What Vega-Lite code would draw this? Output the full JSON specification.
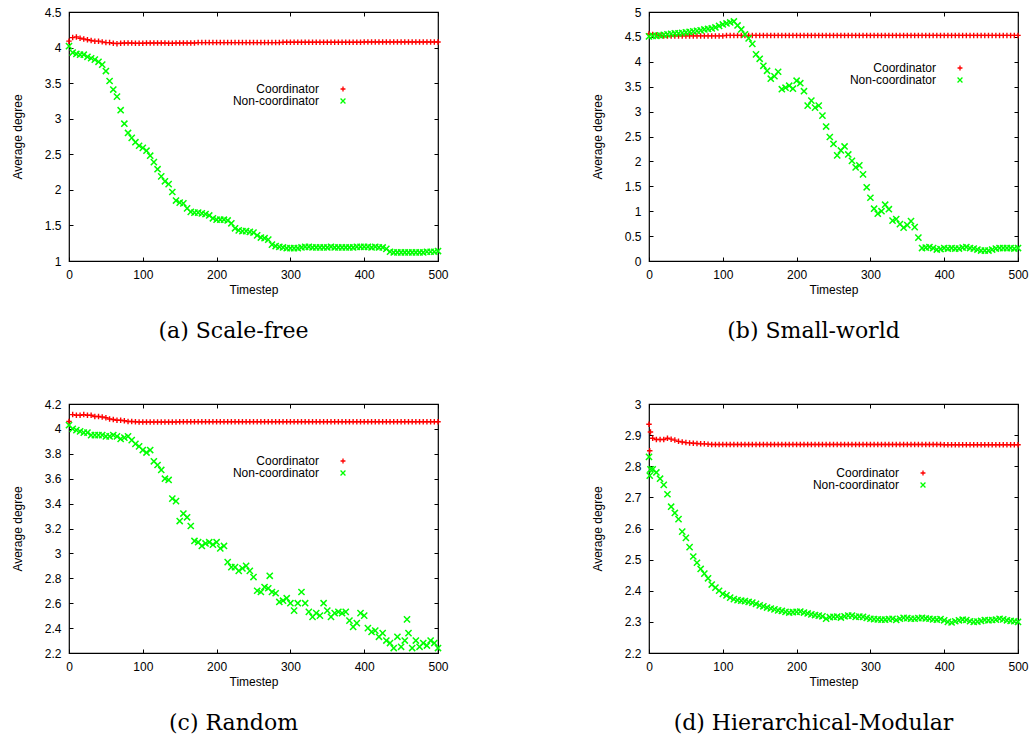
{
"$schema": "https://vega.github.io/schema/vega-lite/v6.json",
"padding": {"left": 10, "top": 5, "right": 5, "bottom": 2},
"background": "#ffffff",
"columns": 2,
"spacing": {"row": 143, "column": 211},
"bounds": "flush",
"resolve": {"scale": {"color": "independent", "shape": "independent"}},
"config": {
  "view": {"stroke": "#000000", "strokeWidth": 1.2},
  "axis": {"labelFont": "Liberation Sans", "labelFontSize": 12, "labelColor": "#000000", "titleFont": "Liberation Sans", "titleFontSize": 12, "titleFontWeight": "normal", "titleColor": "#000000", "tickColor": "#000000", "tickSize": -4, "labelPadding": 12, "domain": false, "grid": false, "labelFlush": false, "labelOverlap": false},
  "axisX": {"titlePadding": 4},
  "axisY": {"titlePadding": 20},
  "legend": {"title": null, "padding": 0, "labelFont": "Liberation Sans", "labelFontSize": 12, "labelColor": "#000000", "labelAlign": "right", "labelOffset": -30, "symbolOffset": 0, "rowPadding": 0, "symbolSize": 24, "symbolStrokeWidth": 1.3},
  "title": {"font": "DejaVu Serif", "fontSize": 22, "fontWeight": "normal", "color": "#000000", "orient": "bottom", "anchor": "middle", "frame": "group", "dx": -20, "offset": 26}
},
"datasets": {
"a": [
{"t":0,"c":4.09,"n":4.02},{"t":5,"c":4.14,"n":3.93},{"t":10,"c":4.15,"n":3.91},{"t":15,"c":4.13,"n":3.90},{"t":20,"c":4.12,"n":3.90},
{"t":25,"c":4.11,"n":3.87},{"t":30,"c":4.10,"n":3.85},{"t":35,"c":4.09,"n":3.83},{"t":40,"c":4.09,"n":3.80},{"t":45,"c":4.08,"n":3.76},
{"t":50,"c":4.07,"n":3.67},{"t":55,"c":4.07,"n":3.53},{"t":60,"c":4.06,"n":3.41},{"t":65,"c":4.055,"n":3.31},{"t":70,"c":4.06,"n":3.12},
{"t":75,"c":4.065,"n":2.93},{"t":80,"c":4.065,"n":2.80},{"t":85,"c":4.065,"n":2.73},{"t":90,"c":4.06,"n":2.67},{"t":95,"c":4.06,"n":2.62},
{"t":100,"c":4.06,"n":2.59},{"t":105,"c":4.065,"n":2.55},{"t":110,"c":4.065,"n":2.48},{"t":115,"c":4.065,"n":2.39},{"t":120,"c":4.065,"n":2.29},
{"t":125,"c":4.065,"n":2.19},{"t":130,"c":4.065,"n":2.12},{"t":135,"c":4.06,"n":2.08},{"t":140,"c":4.06,"n":1.97},{"t":145,"c":4.065,"n":1.85},
{"t":150,"c":4.065,"n":1.82},{"t":155,"c":4.065,"n":1.81},{"t":160,"c":4.065,"n":1.74},{"t":165,"c":4.065,"n":1.69},{"t":170,"c":4.065,"n":1.68},
{"t":175,"c":4.07,"n":1.68},{"t":180,"c":4.07,"n":1.67},{"t":185,"c":4.07,"n":1.66},{"t":190,"c":4.07,"n":1.64},{"t":195,"c":4.07,"n":1.60},
{"t":200,"c":4.07,"n":1.58},{"t":205,"c":4.07,"n":1.58},{"t":210,"c":4.07,"n":1.58},{"t":215,"c":4.07,"n":1.57},{"t":220,"c":4.07,"n":1.53},
{"t":225,"c":4.07,"n":1.46},{"t":230,"c":4.07,"n":1.43},{"t":235,"c":4.07,"n":1.42},{"t":240,"c":4.07,"n":1.42},{"t":245,"c":4.07,"n":1.41},
{"t":250,"c":4.07,"n":1.40},{"t":255,"c":4.07,"n":1.36},{"t":260,"c":4.07,"n":1.33},{"t":265,"c":4.07,"n":1.32},{"t":270,"c":4.07,"n":1.30},
{"t":275,"c":4.07,"n":1.23},{"t":280,"c":4.07,"n":1.21},{"t":285,"c":4.07,"n":1.20},{"t":290,"c":4.075,"n":1.19},{"t":295,"c":4.075,"n":1.18},
{"t":300,"c":4.075,"n":1.18},{"t":305,"c":4.075,"n":1.18},{"t":310,"c":4.075,"n":1.18},{"t":315,"c":4.075,"n":1.19},{"t":320,"c":4.075,"n":1.20},
{"t":325,"c":4.075,"n":1.20},{"t":330,"c":4.075,"n":1.19},{"t":335,"c":4.075,"n":1.19},{"t":340,"c":4.075,"n":1.19},{"t":345,"c":4.075,"n":1.19},
{"t":350,"c":4.075,"n":1.19},{"t":355,"c":4.075,"n":1.20},{"t":360,"c":4.075,"n":1.19},{"t":365,"c":4.075,"n":1.19},{"t":370,"c":4.075,"n":1.19},
{"t":375,"c":4.075,"n":1.19},{"t":380,"c":4.075,"n":1.19},{"t":385,"c":4.075,"n":1.19},{"t":390,"c":4.075,"n":1.20},{"t":395,"c":4.075,"n":1.20},
{"t":400,"c":4.078,"n":1.20},{"t":405,"c":4.078,"n":1.20},{"t":410,"c":4.078,"n":1.19},{"t":415,"c":4.078,"n":1.20},{"t":420,"c":4.078,"n":1.19},
{"t":425,"c":4.078,"n":1.19},{"t":430,"c":4.078,"n":1.17},{"t":435,"c":4.078,"n":1.13},{"t":440,"c":4.078,"n":1.12},{"t":445,"c":4.078,"n":1.12},
{"t":450,"c":4.078,"n":1.12},{"t":455,"c":4.078,"n":1.12},{"t":460,"c":4.078,"n":1.12},{"t":465,"c":4.078,"n":1.12},{"t":470,"c":4.078,"n":1.12},
{"t":475,"c":4.078,"n":1.12},{"t":480,"c":4.078,"n":1.12},{"t":485,"c":4.078,"n":1.13},{"t":490,"c":4.078,"n":1.13},{"t":495,"c":4.078,"n":1.13},
{"t":500,"c":4.078,"n":1.14}
],
"b": [
{"t":0,"c":4.56,"n":4.51},{"t":5,"c":4.55,"n":4.52},{"t":10,"c":4.54,"n":4.52},{"t":15,"c":4.53,"n":4.53},{"t":20,"c":4.52,"n":4.54},
{"t":25,"c":4.52,"n":4.55},{"t":30,"c":4.52,"n":4.56},{"t":35,"c":4.52,"n":4.57},{"t":40,"c":4.52,"n":4.57},{"t":45,"c":4.52,"n":4.58},
{"t":50,"c":4.52,"n":4.59},{"t":55,"c":4.52,"n":4.60},{"t":60,"c":4.52,"n":4.61},{"t":65,"c":4.52,"n":4.62},{"t":70,"c":4.52,"n":4.63},
{"t":75,"c":4.52,"n":4.65},{"t":80,"c":4.52,"n":4.66},{"t":85,"c":4.52,"n":4.67},{"t":90,"c":4.52,"n":4.69},{"t":95,"c":4.52,"n":4.72},
{"t":100,"c":4.52,"n":4.75},{"t":105,"c":4.53,"n":4.77},{"t":110,"c":4.53,"n":4.79},{"t":115,"c":4.53,"n":4.81},{"t":120,"c":4.53,"n":4.73},
{"t":125,"c":4.53,"n":4.65},{"t":130,"c":4.53,"n":4.55},{"t":135,"c":4.53,"n":4.47},{"t":140,"c":4.53,"n":4.36},{"t":145,"c":4.53,"n":4.15},
{"t":150,"c":4.53,"n":4.06},{"t":155,"c":4.53,"n":3.92},{"t":160,"c":4.53,"n":3.82},{"t":165,"c":4.53,"n":3.66},{"t":170,"c":4.53,"n":3.71},
{"t":175,"c":4.53,"n":3.80},{"t":180,"c":4.53,"n":3.45},{"t":185,"c":4.53,"n":3.48},{"t":190,"c":4.53,"n":3.52},{"t":195,"c":4.53,"n":3.46},
{"t":200,"c":4.53,"n":3.62},{"t":205,"c":4.53,"n":3.57},{"t":210,"c":4.53,"n":3.41},{"t":215,"c":4.53,"n":3.12},{"t":220,"c":4.53,"n":3.22},
{"t":225,"c":4.53,"n":3.08},{"t":230,"c":4.53,"n":3.12},{"t":235,"c":4.53,"n":2.92},{"t":240,"c":4.53,"n":2.70},{"t":245,"c":4.53,"n":2.49},
{"t":250,"c":4.53,"n":2.35},{"t":255,"c":4.53,"n":2.12},{"t":260,"c":4.53,"n":2.22},{"t":265,"c":4.53,"n":2.30},{"t":270,"c":4.53,"n":2.14},
{"t":275,"c":4.53,"n":2.01},{"t":280,"c":4.53,"n":1.88},{"t":285,"c":4.53,"n":1.92},{"t":290,"c":4.53,"n":1.74},{"t":295,"c":4.53,"n":1.48},
{"t":300,"c":4.53,"n":1.27},{"t":305,"c":4.53,"n":1.05},{"t":310,"c":4.53,"n":0.95},{"t":315,"c":4.53,"n":1.00},{"t":320,"c":4.53,"n":1.13},
{"t":325,"c":4.53,"n":1.04},{"t":330,"c":4.53,"n":0.81},{"t":335,"c":4.53,"n":0.84},{"t":340,"c":4.53,"n":0.74},{"t":345,"c":4.53,"n":0.67},
{"t":350,"c":4.53,"n":0.72},{"t":355,"c":4.53,"n":0.80},{"t":360,"c":4.53,"n":0.68},{"t":365,"c":4.53,"n":0.47},{"t":370,"c":4.53,"n":0.26},
{"t":375,"c":4.53,"n":0.27},{"t":380,"c":4.53,"n":0.28},{"t":385,"c":4.53,"n":0.26},{"t":390,"c":4.53,"n":0.23},{"t":395,"c":4.53,"n":0.24},
{"t":400,"c":4.53,"n":0.26},{"t":405,"c":4.53,"n":0.25},{"t":410,"c":4.53,"n":0.26},{"t":415,"c":4.53,"n":0.25},{"t":420,"c":4.53,"n":0.25},
{"t":425,"c":4.53,"n":0.27},{"t":430,"c":4.53,"n":0.28},{"t":435,"c":4.53,"n":0.26},{"t":440,"c":4.53,"n":0.25},{"t":445,"c":4.53,"n":0.23},
{"t":450,"c":4.53,"n":0.21},{"t":455,"c":4.53,"n":0.21},{"t":460,"c":4.53,"n":0.21},{"t":465,"c":4.53,"n":0.23},{"t":470,"c":4.53,"n":0.25},
{"t":475,"c":4.53,"n":0.26},{"t":480,"c":4.53,"n":0.26},{"t":485,"c":4.53,"n":0.26},{"t":490,"c":4.53,"n":0.26},{"t":495,"c":4.53,"n":0.25},
{"t":500,"c":4.53,"n":0.26}
],
"c": [
{"t":0,"c":4.06,"n":4.03},{"t":5,"c":4.115,"n":4.00},{"t":10,"c":4.11,"n":3.99},{"t":15,"c":4.11,"n":3.98},{"t":20,"c":4.115,"n":3.97},
{"t":25,"c":4.11,"n":3.97},{"t":30,"c":4.11,"n":3.95},{"t":35,"c":4.10,"n":3.95},{"t":40,"c":4.10,"n":3.95},{"t":45,"c":4.095,"n":3.95},
{"t":50,"c":4.09,"n":3.94},{"t":55,"c":4.08,"n":3.94},{"t":60,"c":4.075,"n":3.95},{"t":65,"c":4.07,"n":3.94},{"t":70,"c":4.07,"n":3.92},
{"t":75,"c":4.065,"n":3.93},{"t":80,"c":4.06,"n":3.94},{"t":85,"c":4.06,"n":3.91},{"t":90,"c":4.058,"n":3.88},{"t":95,"c":4.056,"n":3.86},
{"t":100,"c":4.056,"n":3.83},{"t":105,"c":4.056,"n":3.81},{"t":110,"c":4.056,"n":3.83},{"t":115,"c":4.056,"n":3.74},{"t":120,"c":4.056,"n":3.71},
{"t":125,"c":4.056,"n":3.67},{"t":130,"c":4.056,"n":3.60},{"t":135,"c":4.056,"n":3.59},{"t":140,"c":4.056,"n":3.44},{"t":145,"c":4.056,"n":3.42},
{"t":150,"c":4.058,"n":3.26},{"t":155,"c":4.058,"n":3.32},{"t":160,"c":4.058,"n":3.29},{"t":165,"c":4.058,"n":3.22},{"t":170,"c":4.058,"n":3.10},
{"t":175,"c":4.058,"n":3.09},{"t":180,"c":4.058,"n":3.06},{"t":185,"c":4.058,"n":3.08},{"t":190,"c":4.058,"n":3.09},{"t":195,"c":4.058,"n":3.07},
{"t":200,"c":4.058,"n":3.09},{"t":205,"c":4.058,"n":3.04},{"t":210,"c":4.058,"n":3.06},{"t":215,"c":4.058,"n":2.93},{"t":220,"c":4.058,"n":2.89},
{"t":225,"c":4.058,"n":2.89},{"t":230,"c":4.058,"n":2.86},{"t":235,"c":4.058,"n":2.88},{"t":240,"c":4.058,"n":2.90},{"t":245,"c":4.058,"n":2.86},
{"t":250,"c":4.058,"n":2.81},{"t":255,"c":4.058,"n":2.70},{"t":260,"c":4.058,"n":2.69},{"t":265,"c":4.058,"n":2.73},{"t":270,"c":4.058,"n":2.72},
{"t":272,"n":2.82},
{"t":275,"c":4.058,"n":2.69},{"t":280,"c":4.058,"n":2.68},{"t":285,"c":4.058,"n":2.61},{"t":290,"c":4.058,"n":2.62},{"t":295,"c":4.058,"n":2.64},
{"t":300,"c":4.058,"n":2.60},{"t":305,"c":4.058,"n":2.54},{"t":310,"c":4.058,"n":2.60},{"t":315,"c":4.058,"n":2.69},{"t":320,"c":4.058,"n":2.60},
{"t":325,"c":4.058,"n":2.53},{"t":330,"c":4.058,"n":2.49},{"t":335,"c":4.058,"n":2.52},{"t":340,"c":4.058,"n":2.50},{"t":345,"c":4.058,"n":2.60},
{"t":350,"c":4.058,"n":2.54},{"t":355,"c":4.058,"n":2.49},{"t":360,"c":4.058,"n":2.52},{"t":365,"c":4.058,"n":2.53},{"t":370,"c":4.058,"n":2.52},
{"t":375,"c":4.058,"n":2.53},{"t":380,"c":4.058,"n":2.46},{"t":385,"c":4.058,"n":2.41},{"t":390,"c":4.058,"n":2.44},{"t":395,"c":4.058,"n":2.52},
{"t":400,"c":4.058,"n":2.50},{"t":405,"c":4.058,"n":2.40},{"t":410,"c":4.058,"n":2.37},{"t":415,"c":4.058,"n":2.38},{"t":420,"c":4.058,"n":2.33},
{"t":425,"c":4.058,"n":2.36},{"t":430,"c":4.058,"n":2.30},{"t":435,"c":4.058,"n":2.28},{"t":440,"c":4.058,"n":2.24},{"t":445,"c":4.058,"n":2.33},
{"t":450,"c":4.058,"n":2.25},{"t":455,"c":4.058,"n":2.30},{"t":458,"n":2.47},{"t":460,"c":4.058,"n":2.36},{"t":465,"c":4.058,"n":2.24},{"t":470,"c":4.058,"n":2.30},
{"t":475,"c":4.058,"n":2.25},{"t":480,"c":4.058,"n":2.28},{"t":485,"c":4.058,"n":2.26},{"t":490,"c":4.058,"n":2.30},{"t":495,"c":4.058,"n":2.28},
{"t":500,"c":4.058,"n":2.24}
],
"d": [
{"t":0,"c":2.935,"n":2.83},{"t":1,"c":2.85,"n":2.77},{"t":2,"c":2.91,"n":2.79},
{"t":5,"c":2.89,"n":2.79},{"t":10,"c":2.886,"n":2.78},{"t":15,"c":2.886,"n":2.76},{"t":20,"c":2.886,"n":2.74},
{"t":25,"c":2.89,"n":2.71},{"t":30,"c":2.887,"n":2.67},{"t":35,"c":2.884,"n":2.65},{"t":40,"c":2.88,"n":2.63},{"t":45,"c":2.878,"n":2.59},
{"t":50,"c":2.876,"n":2.57},{"t":55,"c":2.875,"n":2.54},{"t":60,"c":2.874,"n":2.51},{"t":65,"c":2.873,"n":2.49},{"t":70,"c":2.872,"n":2.47},
{"t":75,"c":2.872,"n":2.455},{"t":80,"c":2.871,"n":2.44},{"t":85,"c":2.87,"n":2.42},{"t":90,"c":2.87,"n":2.41},{"t":95,"c":2.87,"n":2.40},
{"t":100,"c":2.87,"n":2.39},{"t":105,"c":2.87,"n":2.385},{"t":110,"c":2.87,"n":2.378},{"t":115,"c":2.87,"n":2.373},{"t":120,"c":2.87,"n":2.37},
{"t":125,"c":2.87,"n":2.368},{"t":130,"c":2.87,"n":2.367},{"t":135,"c":2.87,"n":2.364},{"t":140,"c":2.87,"n":2.362},{"t":145,"c":2.87,"n":2.358},
{"t":150,"c":2.87,"n":2.353},{"t":155,"c":2.87,"n":2.35},{"t":160,"c":2.87,"n":2.346},{"t":165,"c":2.87,"n":2.343},{"t":170,"c":2.87,"n":2.34},
{"t":175,"c":2.87,"n":2.337},{"t":180,"c":2.87,"n":2.335},{"t":185,"c":2.87,"n":2.332},{"t":190,"c":2.87,"n":2.33},{"t":195,"c":2.87,"n":2.331},
{"t":200,"c":2.87,"n":2.332},{"t":205,"c":2.87,"n":2.333},{"t":210,"c":2.87,"n":2.33},{"t":215,"c":2.87,"n":2.327},{"t":220,"c":2.87,"n":2.324},
{"t":225,"c":2.87,"n":2.322},{"t":230,"c":2.87,"n":2.32},{"t":235,"c":2.87,"n":2.318},{"t":240,"c":2.87,"n":2.31},{"t":245,"c":2.87,"n":2.315},
{"t":250,"c":2.87,"n":2.316},{"t":255,"c":2.87,"n":2.317},{"t":260,"c":2.87,"n":2.314},{"t":265,"c":2.87,"n":2.318},{"t":270,"c":2.87,"n":2.32},
{"t":275,"c":2.87,"n":2.32},{"t":280,"c":2.87,"n":2.316},{"t":285,"c":2.87,"n":2.317},{"t":290,"c":2.87,"n":2.316},{"t":295,"c":2.87,"n":2.313},
{"t":300,"c":2.87,"n":2.31},{"t":305,"c":2.87,"n":2.309},{"t":310,"c":2.87,"n":2.308},{"t":315,"c":2.87,"n":2.307},{"t":320,"c":2.87,"n":2.307},
{"t":325,"c":2.87,"n":2.309},{"t":330,"c":2.87,"n":2.31},{"t":335,"c":2.87,"n":2.306},{"t":340,"c":2.87,"n":2.31},{"t":345,"c":2.87,"n":2.313},
{"t":350,"c":2.87,"n":2.312},{"t":355,"c":2.87,"n":2.31},{"t":360,"c":2.87,"n":2.31},{"t":365,"c":2.87,"n":2.312},{"t":370,"c":2.87,"n":2.313},
{"t":375,"c":2.87,"n":2.311},{"t":380,"c":2.87,"n":2.31},{"t":385,"c":2.87,"n":2.308},{"t":390,"c":2.87,"n":2.307},{"t":395,"c":2.87,"n":2.309},
{"t":400,"c":2.869,"n":2.305},{"t":405,"c":2.869,"n":2.30},{"t":410,"c":2.869,"n":2.298},{"t":415,"c":2.869,"n":2.302},{"t":420,"c":2.869,"n":2.305},
{"t":425,"c":2.869,"n":2.307},{"t":430,"c":2.869,"n":2.306},{"t":435,"c":2.869,"n":2.302},{"t":440,"c":2.869,"n":2.30},{"t":445,"c":2.869,"n":2.301},
{"t":450,"c":2.869,"n":2.303},{"t":455,"c":2.869,"n":2.306},{"t":460,"c":2.869,"n":2.305},{"t":465,"c":2.869,"n":2.306},{"t":470,"c":2.869,"n":2.307},
{"t":475,"c":2.869,"n":2.31},{"t":480,"c":2.869,"n":2.308},{"t":485,"c":2.869,"n":2.305},{"t":490,"c":2.869,"n":2.303},{"t":495,"c":2.869,"n":2.302},
{"t":500,"c":2.869,"n":2.30}
]
},
"concat": [
{
  "width": 369, "height": 249,
  "data": {"name": "a"},
  "title": {"text": "(a) Scale-free"},
  "layer": [
    {"mark": {"type": "point", "filled": false, "strokeWidth": 1.4, "size": 30, "opacity": 1},
     "encoding": {
       "x": {"field": "t", "type": "quantitative", "scale": {"domain": [0, 500], "nice": false}, "axis": {"orient": "bottom", "title": "Timestep", "values": [0, 100, 200, 300, 400, 500]}},
       "y": {"field": "c", "type": "quantitative", "scale": {"domain": [1, 4.5], "nice": false, "zero": false}, "axis": {"orient": "left", "title": "Average degree", "values": [1, 1.5, 2, 2.5, 3, 3.5, 4, 4.5], "format": "~g"}},
       "color": {"datum": "Coordinator", "scale": {"domain": ["Coordinator", "Non-coordinator"], "range": ["#ff0000", "#00ff00"]}, "legend": {"orient": "none", "legendX": 268, "legendY": 71}},
       "shape": {"datum": "Coordinator", "scale": {"domain": ["Coordinator", "Non-coordinator"], "range": ["M-1,0L1,0M0,-1L0,1", "M-1,-1L1,1M-1,1L1,-1"]}, "legend": {"orient": "none", "legendX": 268, "legendY": 71}}
     }},
    {"mark": {"type": "point", "filled": false, "strokeWidth": 1.5, "size": 38, "opacity": 1},
     "encoding": {
       "x": {"field": "t", "type": "quantitative", "scale": {"domain": [0, 500], "nice": false}, "axis": {"orient": "top", "title": null, "labels": false, "values": [0, 100, 200, 300, 400, 500]}},
       "y": {"field": "n", "type": "quantitative", "scale": {"domain": [1, 4.5], "nice": false, "zero": false}, "axis": {"orient": "right", "title": null, "labels": false, "values": [1, 1.5, 2, 2.5, 3, 3.5, 4, 4.5]}},
       "color": {"datum": "Non-coordinator"},
       "shape": {"datum": "Non-coordinator"}
     }}
  ]
},
{
  "width": 369, "height": 249,
  "data": {"name": "b"},
  "title": {"text": "(b) Small-world"},
  "layer": [
    {"mark": {"type": "point", "filled": false, "strokeWidth": 1.4, "size": 30, "opacity": 1},
     "encoding": {
       "x": {"field": "t", "type": "quantitative", "scale": {"domain": [0, 500], "nice": false}, "axis": {"orient": "bottom", "title": "Timestep", "values": [0, 100, 200, 300, 400, 500]}},
       "y": {"field": "c", "type": "quantitative", "scale": {"domain": [0, 5], "nice": false, "zero": false}, "axis": {"orient": "left", "title": "Average degree", "values": [0, 0.5, 1, 1.5, 2, 2.5, 3, 3.5, 4, 4.5, 5], "format": "~g"}},
       "color": {"datum": "Coordinator", "scale": {"domain": ["Coordinator", "Non-coordinator"], "range": ["#ff0000", "#00ff00"]}, "legend": {"orient": "none", "legendX": 305, "legendY": 50}},
       "shape": {"datum": "Coordinator", "scale": {"domain": ["Coordinator", "Non-coordinator"], "range": ["M-1,0L1,0M0,-1L0,1", "M-1,-1L1,1M-1,1L1,-1"]}, "legend": {"orient": "none", "legendX": 305, "legendY": 50}}
     }},
    {"mark": {"type": "point", "filled": false, "strokeWidth": 1.5, "size": 38, "opacity": 1},
     "encoding": {
       "x": {"field": "t", "type": "quantitative", "scale": {"domain": [0, 500], "nice": false}, "axis": {"orient": "top", "title": null, "labels": false, "values": [0, 100, 200, 300, 400, 500]}},
       "y": {"field": "n", "type": "quantitative", "scale": {"domain": [0, 5], "nice": false, "zero": false}, "axis": {"orient": "right", "title": null, "labels": false, "values": [0, 0.5, 1, 1.5, 2, 2.5, 3, 3.5, 4, 4.5, 5]}},
       "color": {"datum": "Non-coordinator"},
       "shape": {"datum": "Non-coordinator"}
     }}
  ]
},
{
  "width": 369, "height": 249,
  "data": {"name": "c"},
  "title": {"text": "(c) Random"},
  "layer": [
    {"mark": {"type": "point", "filled": false, "strokeWidth": 1.4, "size": 30, "opacity": 1},
     "encoding": {
       "x": {"field": "t", "type": "quantitative", "scale": {"domain": [0, 500], "nice": false}, "axis": {"orient": "bottom", "title": "Timestep", "values": [0, 100, 200, 300, 400, 500]}},
       "y": {"field": "c", "type": "quantitative", "scale": {"domain": [2.2, 4.2], "nice": false, "zero": false}, "axis": {"orient": "left", "title": "Average degree", "values": [2.2, 2.4, 2.6, 2.8, 3, 3.2, 3.4, 3.6, 3.8, 4, 4.2], "format": "~g"}},
       "color": {"datum": "Coordinator", "scale": {"domain": ["Coordinator", "Non-coordinator"], "range": ["#ff0000", "#00ff00"]}, "legend": {"orient": "none", "legendX": 268, "legendY": 51}},
       "shape": {"datum": "Coordinator", "scale": {"domain": ["Coordinator", "Non-coordinator"], "range": ["M-1,0L1,0M0,-1L0,1", "M-1,-1L1,1M-1,1L1,-1"]}, "legend": {"orient": "none", "legendX": 268, "legendY": 51}}
     }},
    {"mark": {"type": "point", "filled": false, "strokeWidth": 1.5, "size": 38, "opacity": 1},
     "encoding": {
       "x": {"field": "t", "type": "quantitative", "scale": {"domain": [0, 500], "nice": false}, "axis": {"orient": "top", "title": null, "labels": false, "values": [0, 100, 200, 300, 400, 500]}},
       "y": {"field": "n", "type": "quantitative", "scale": {"domain": [2.2, 4.2], "nice": false, "zero": false}, "axis": {"orient": "right", "title": null, "labels": false, "values": [2.2, 2.4, 2.6, 2.8, 3, 3.2, 3.4, 3.6, 3.8, 4, 4.2]}},
       "color": {"datum": "Non-coordinator"},
       "shape": {"datum": "Non-coordinator"}
     }}
  ]
},
{
  "width": 369, "height": 249,
  "data": {"name": "d"},
  "title": {"text": "(d) Hierarchical-Modular"},
  "layer": [
    {"mark": {"type": "point", "filled": false, "strokeWidth": 1.4, "size": 30, "opacity": 1},
     "encoding": {
       "x": {"field": "t", "type": "quantitative", "scale": {"domain": [0, 500], "nice": false}, "axis": {"orient": "bottom", "title": "Timestep", "values": [0, 100, 200, 300, 400, 500]}},
       "y": {"field": "c", "type": "quantitative", "scale": {"domain": [2.2, 3], "nice": false, "zero": false}, "axis": {"orient": "left", "title": "Average degree", "values": [2.2, 2.3, 2.4, 2.5, 2.6, 2.7, 2.8, 2.9, 3], "format": "~g"}},
       "color": {"datum": "Coordinator", "scale": {"domain": ["Coordinator", "Non-coordinator"], "range": ["#ff0000", "#00ff00"]}, "legend": {"orient": "none", "legendX": 268, "legendY": 63}},
       "shape": {"datum": "Coordinator", "scale": {"domain": ["Coordinator", "Non-coordinator"], "range": ["M-1,0L1,0M0,-1L0,1", "M-1,-1L1,1M-1,1L1,-1"]}, "legend": {"orient": "none", "legendX": 268, "legendY": 63}}
     }},
    {"mark": {"type": "point", "filled": false, "strokeWidth": 1.5, "size": 38, "opacity": 1},
     "encoding": {
       "x": {"field": "t", "type": "quantitative", "scale": {"domain": [0, 500], "nice": false}, "axis": {"orient": "top", "title": null, "labels": false, "values": [0, 100, 200, 300, 400, 500]}},
       "y": {"field": "n", "type": "quantitative", "scale": {"domain": [2.2, 3], "nice": false, "zero": false}, "axis": {"orient": "right", "title": null, "labels": false, "values": [2.2, 2.3, 2.4, 2.5, 2.6, 2.7, 2.8, 2.9, 3]}},
       "color": {"datum": "Non-coordinator"},
       "shape": {"datum": "Non-coordinator"}
     }}
  ]
}
]
}
